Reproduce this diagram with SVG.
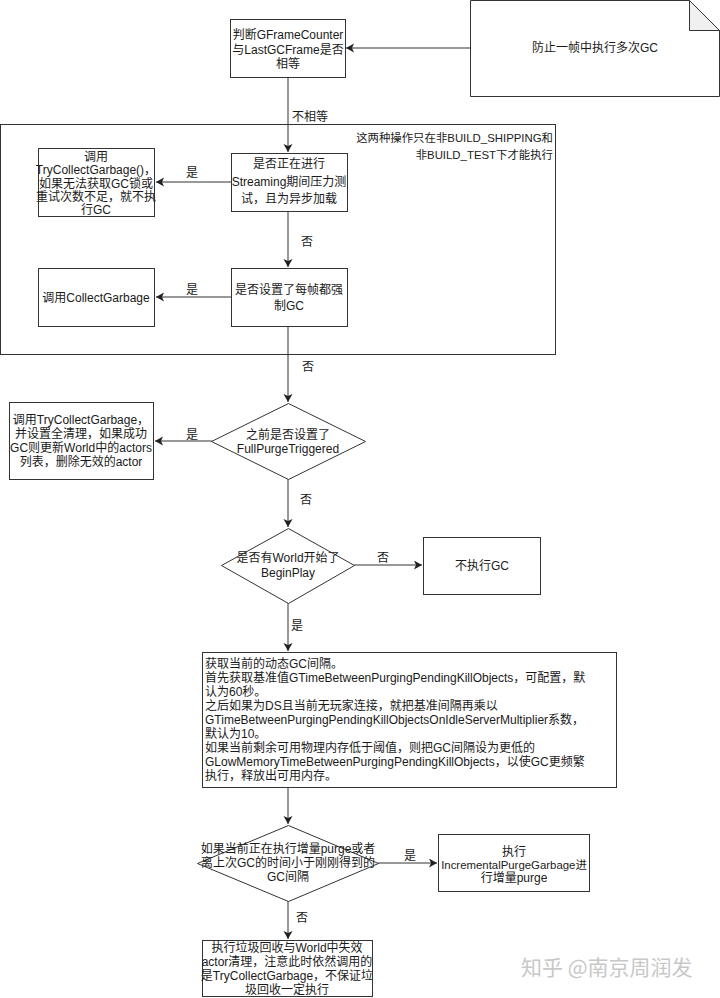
<svg xmlns="http://www.w3.org/2000/svg" width="720" height="998" viewBox="0 0 720 998">
<style>
.box{fill:#fff;stroke:#333;stroke-width:1}
.cont{fill:none;stroke:#333;stroke-width:1}
.t{font-family:"Liberation Sans","Noto Sans CJK SC",sans-serif;font-size:12px;fill:#1a1a1a;text-anchor:middle}
.l{text-anchor:start}
.r{text-anchor:end}
.s{font-size:11.4px}
.lbl{font-family:"Liberation Sans","Noto Sans CJK SC",sans-serif;font-size:12px;fill:#1a1a1a;text-anchor:middle}
.e{fill:none;stroke:#333;stroke-width:1;marker-end:url(#arr)}
.wm{font-family:"Noto Sans CJK SC",sans-serif;font-size:21px;fill:#c8c8c8}
</style>
<defs>
<marker id="arr" markerWidth="10" markerHeight="10" refX="8" refY="4.5" orient="auto" markerUnits="userSpaceOnUse">
<path d="M0,0 L8,4.5 L0,9 L2,4.5 z" fill="#222"/>
</marker>
</defs>

<g id="container">
<rect class="cont" x="0.5" y="124.5" width="555" height="230"/>
<text class="t r s" x="553" y="142">这两种操作只在非BUILD_SHIPPING和</text>
<text class="t r s" x="553" y="159">非BUILD_TEST下才能执行</text>
</g>

<g id="connectors">
<path class="e" d="M470,48 L346,48"/>
<path class="e" d="M288,77 L288,152"/>
<path class="e" d="M231,182 L156,182"/>
<path class="e" d="M288,211 L288,267"/>
<path class="e" d="M231,297 L156,297"/>
<path class="e" d="M288,326 L288,402"/>
<path class="e" d="M212,441 L155,441"/>
<path class="e" d="M288,479 L288,527"/>
<path class="e" d="M354,565 L422,565"/>
<path class="e" d="M288,603 L288,651"/>
<path class="e" d="M288,787 L288,824"/>
<path class="e" d="M378,863 L437,863"/>
<path class="e" d="M288,901 L288,939"/>
<text class="lbl" x="310" y="121">不相等</text>
<text class="lbl" x="192" y="177">是</text>
<text class="lbl" x="307" y="246">否</text>
<text class="lbl" x="192" y="294">是</text>
<text class="lbl" x="308" y="371">否</text>
<text class="lbl" x="192" y="439">是</text>
<text class="lbl" x="306" y="504">否</text>
<text class="lbl" x="383" y="562">否</text>
<text class="lbl" x="297" y="630">是</text>
<text class="lbl" x="410" y="860">是</text>
<text class="lbl" x="302" y="922">否</text>
</g>

<g id="note">
<path class="box" d="M470.5,0.5 L689.5,0.5 L719.5,30.5 L719.5,96.5 L470.5,96.5 Z"/>
<path d="M689.5,0.5 L689.5,30.5 L719.5,30.5 Z" fill="#f0f0f0" stroke="#333" stroke-width="1"/>
<text class="t" x="595" y="52">防止一帧中执行多次GC</text>
</g>

<g id="check-frame">
<rect class="box" x="230.5" y="19.5" width="115" height="58"/>
<text class="t" x="288" y="39">判断GFrameCounter</text>
<text class="t" x="288" y="54">与LastGCFrame是否</text>
<text class="t" x="288" y="68">相等</text>
</g>

<g id="streaming-test">
<rect class="box" x="231.5" y="153.5" width="116" height="58"/>
<text class="t" x="289" y="168">是否正在进行</text>
<text class="t" x="289" y="186">Streaming期间压力测</text>
<text class="t" x="289" y="203">试，且为异步加载</text>
</g>

<g id="try-collect-1">
<rect class="box" x="38.5" y="148.5" width="116" height="68"/>
<text class="t" x="96" y="161">调用</text>
<text class="t" x="96" y="174">TryCollectGarbage()，</text>
<text class="t" x="96" y="188">如果无法获取GC锁或</text>
<text class="t" x="96" y="201">重试次数不足，就不执</text>
<text class="t" x="96" y="214">行GC</text>
</g>

<g id="force-gc">
<rect class="box" x="231.5" y="268.5" width="116" height="58"/>
<text class="t" x="289" y="294">是否设置了每帧都强</text>
<text class="t" x="289" y="310">制GC</text>
</g>

<g id="collect-garbage">
<rect class="box" x="38.5" y="268.5" width="116" height="58"/>
<text class="t" x="96" y="302">调用CollectGarbage</text>
</g>

<g id="full-purge">
<path class="box" d="M288.5,403.5 L365.5,441.5 L288.5,479.5 L211.5,441.5 Z"/>
<text class="t" x="288" y="439">之前是否设置了</text>
<text class="t" x="288" y="453">FullPurgeTriggered</text>
</g>

<g id="try-collect-2">
<rect class="box" x="9.5" y="402.5" width="144" height="77"/>
<text class="t" x="81" y="424">调用TryCollectGarbage，</text>
<text class="t" x="81" y="438">并设置全清理，如果成功</text>
<text class="t" x="81" y="452">GC则更新World中的actors</text>
<text class="t" x="81" y="466">列表，删除无效的actor</text>
</g>

<g id="begin-play">
<path class="box" d="M288.5,528.5 L354.5,565.5 L288.5,603.5 L221.5,565.5 Z"/>
<text class="t" x="288" y="562">是否有World开始了</text>
<text class="t" x="288" y="577">BeginPlay</text>
</g>

<g id="no-gc">
<rect class="box" x="423.5" y="537.5" width="117" height="57"/>
<text class="t" x="482" y="570">不执行GC</text>
</g>

<g id="interval">
<rect class="box" x="202.5" y="652.5" width="414" height="135"/>
<text class="t l" x="205" y="668">获取当前的动态GC间隔。</text>
<text class="t l" x="205" y="682">首先获取基准值GTimeBetweenPurgingPendingKillObjects，可配置，默</text>
<text class="t l" x="205" y="696">认为60秒。</text>
<text class="t l" x="205" y="710">之后如果为DS且当前无玩家连接，就把基准间隔再乘以</text>
<text class="t l" x="205" y="724">GTimeBetweenPurgingPendingKillObjectsOnIdleServerMultiplier系数，</text>
<text class="t l" x="205" y="738">默认为10。</text>
<text class="t l" x="205" y="752">如果当前剩余可用物理内存低于阈值，则把GC间隔设为更低的</text>
<text class="t l" x="205" y="766">GLowMemoryTimeBetweenPurgingPendingKillObjects，以使GC更频繁</text>
<text class="t l" x="205" y="780">执行，释放出可用内存。</text>
</g>

<g id="incremental-check">
<path class="box" d="M288.5,825.5 L378.5,863.5 L288.5,901.5 L197.5,863.5 Z"/>
<text class="t" x="288" y="853">如果当前正在执行增量purge或者</text>
<text class="t" x="288" y="867">离上次GC的时间小于刚刚得到的</text>
<text class="t" x="288" y="881">GC间隔</text>
</g>

<g id="incremental-purge">
<rect class="box" x="438.5" y="834.5" width="151" height="57"/>
<text class="t" x="514" y="856">执行</text>
<text class="t s" x="514" y="869">IncrementalPurgeGarbage进</text>
<text class="t" x="514" y="882">行增量purge</text>
</g>

<g id="collect-final">
<rect class="box" x="202.5" y="940.5" width="170" height="56"/>
<text class="t" x="287" y="952">执行垃圾回收与World中失效</text>
<text class="t" x="287" y="966">actor清理，注意此时依然调用的</text>
<text class="t" x="287" y="980">是TryCollectGarbage，不保证垃</text>
<text class="t" x="287" y="994">圾回收一定执行</text>
</g>

<text class="wm" x="521" y="975">知乎 @南京周润发</text>
</svg>
